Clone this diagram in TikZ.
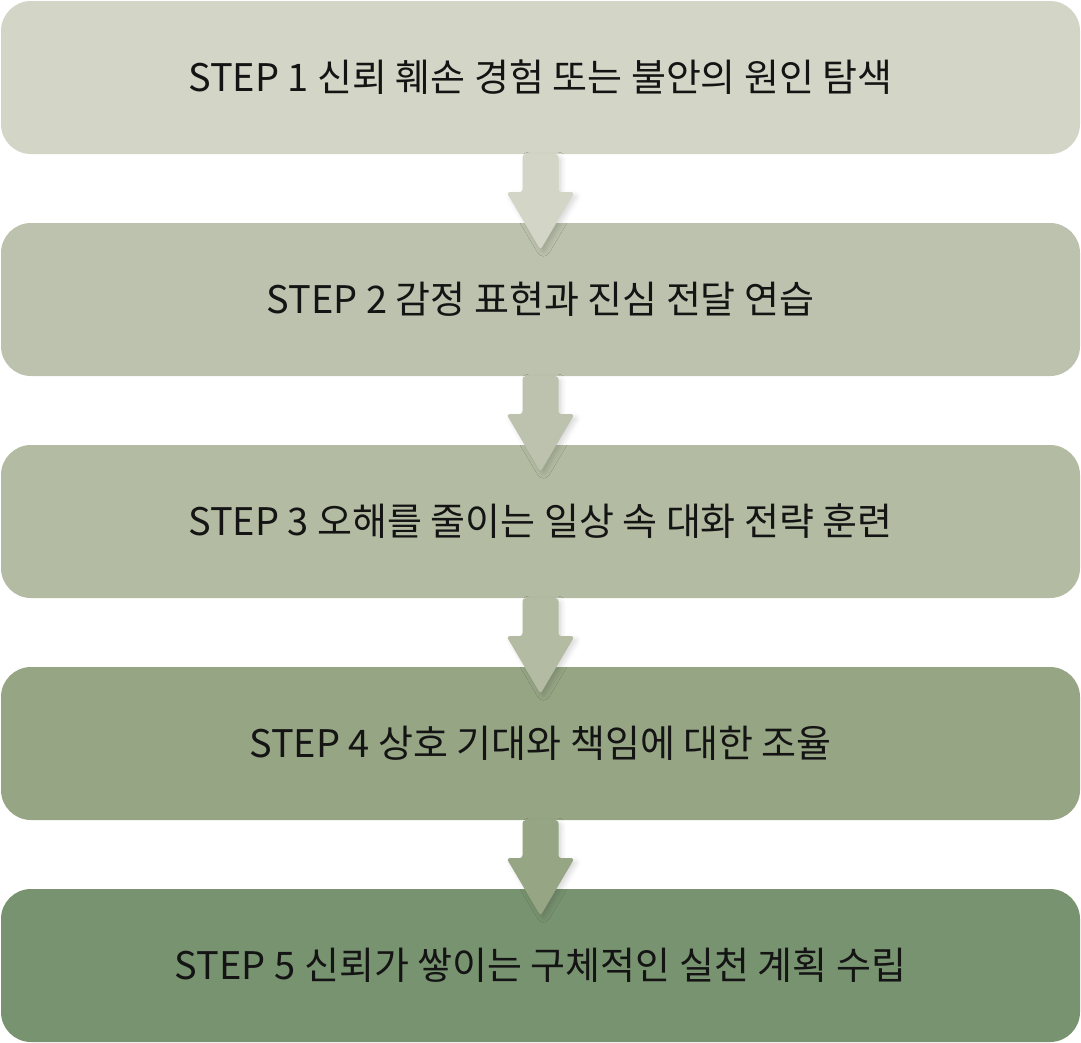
\documentclass[tikz,border=0pt]{standalone}
\usepackage{fontspec}
\setmainfont{Noto Sans CJK KR}
\usetikzlibrary{calc,shadows.blur}
\definecolor{c1}{RGB}{211,213,198}
\definecolor{c2}{RGB}{188,194,173}
\definecolor{c3}{RGB}{179,188,162}
\definecolor{c4}{RGB}{150,165,132}
\definecolor{c5}{RGB}{120,147,112}
\definecolor{txt}{RGB}{20,20,20}
\tikzset{
  stepbox/.style={rectangle, rounded corners=30pt, minimum width=1079pt, minimum height=153pt,
    inner sep=0pt, text=txt, font=\fontsize{38}{44}\selectfont},
  blockarrow/.style={rounded corners=3pt, blur shadow={shadow xshift=3pt, shadow yshift=-3pt, shadow blur radius=5pt, shadow opacity=15}},
}
\newcommand{\blockarr}[3]{%
  \fill[#3, blockarrow]
    ([xshift=-18pt]#1.south) -- ([xshift=-18pt,yshift=-38pt]#1.south)
    -- ([xshift=-34pt,yshift=-38pt]#1.south) -- ([yshift=-27pt]#2.north)
    -- ([xshift=34pt,yshift=-38pt]#1.south) -- ([xshift=18pt,yshift=-38pt]#1.south)
    -- ([xshift=18pt]#1.south) -- cycle;}
\begin{document}
\begin{tikzpicture}[x=1pt,y=1pt]
\useasboundingbox (0,0) rectangle (1081,-1042);
\node[stepbox, fill=c1] (b1) at (540.5,-77.5) {STEP 1 신뢰 훼손 경험 또는 불안의 원인 탐색};
\node[stepbox, fill=c2] (b2) at (540.5,-299.5) {STEP 2 감정 표현과 진심 전달 연습};
\node[stepbox, fill=c3] (b3) at (540.5,-521.5) {STEP 3 오해를 줄이는 일상 속 대화 전략 훈련};
\node[stepbox, fill=c4] (b4) at (540.5,-743.5) {STEP 4 상호 기대와 책임에 대한 조율};
\node[stepbox, fill=c5] (b5) at (540.5,-965.5) {STEP 5 신뢰가 쌓이는 구체적인 실천 계획 수립};
\blockarr{b1}{b2}{c1}
\blockarr{b2}{b3}{c2}
\blockarr{b3}{b4}{c3}
\blockarr{b4}{b5}{c4}
\end{tikzpicture}
\end{document}
